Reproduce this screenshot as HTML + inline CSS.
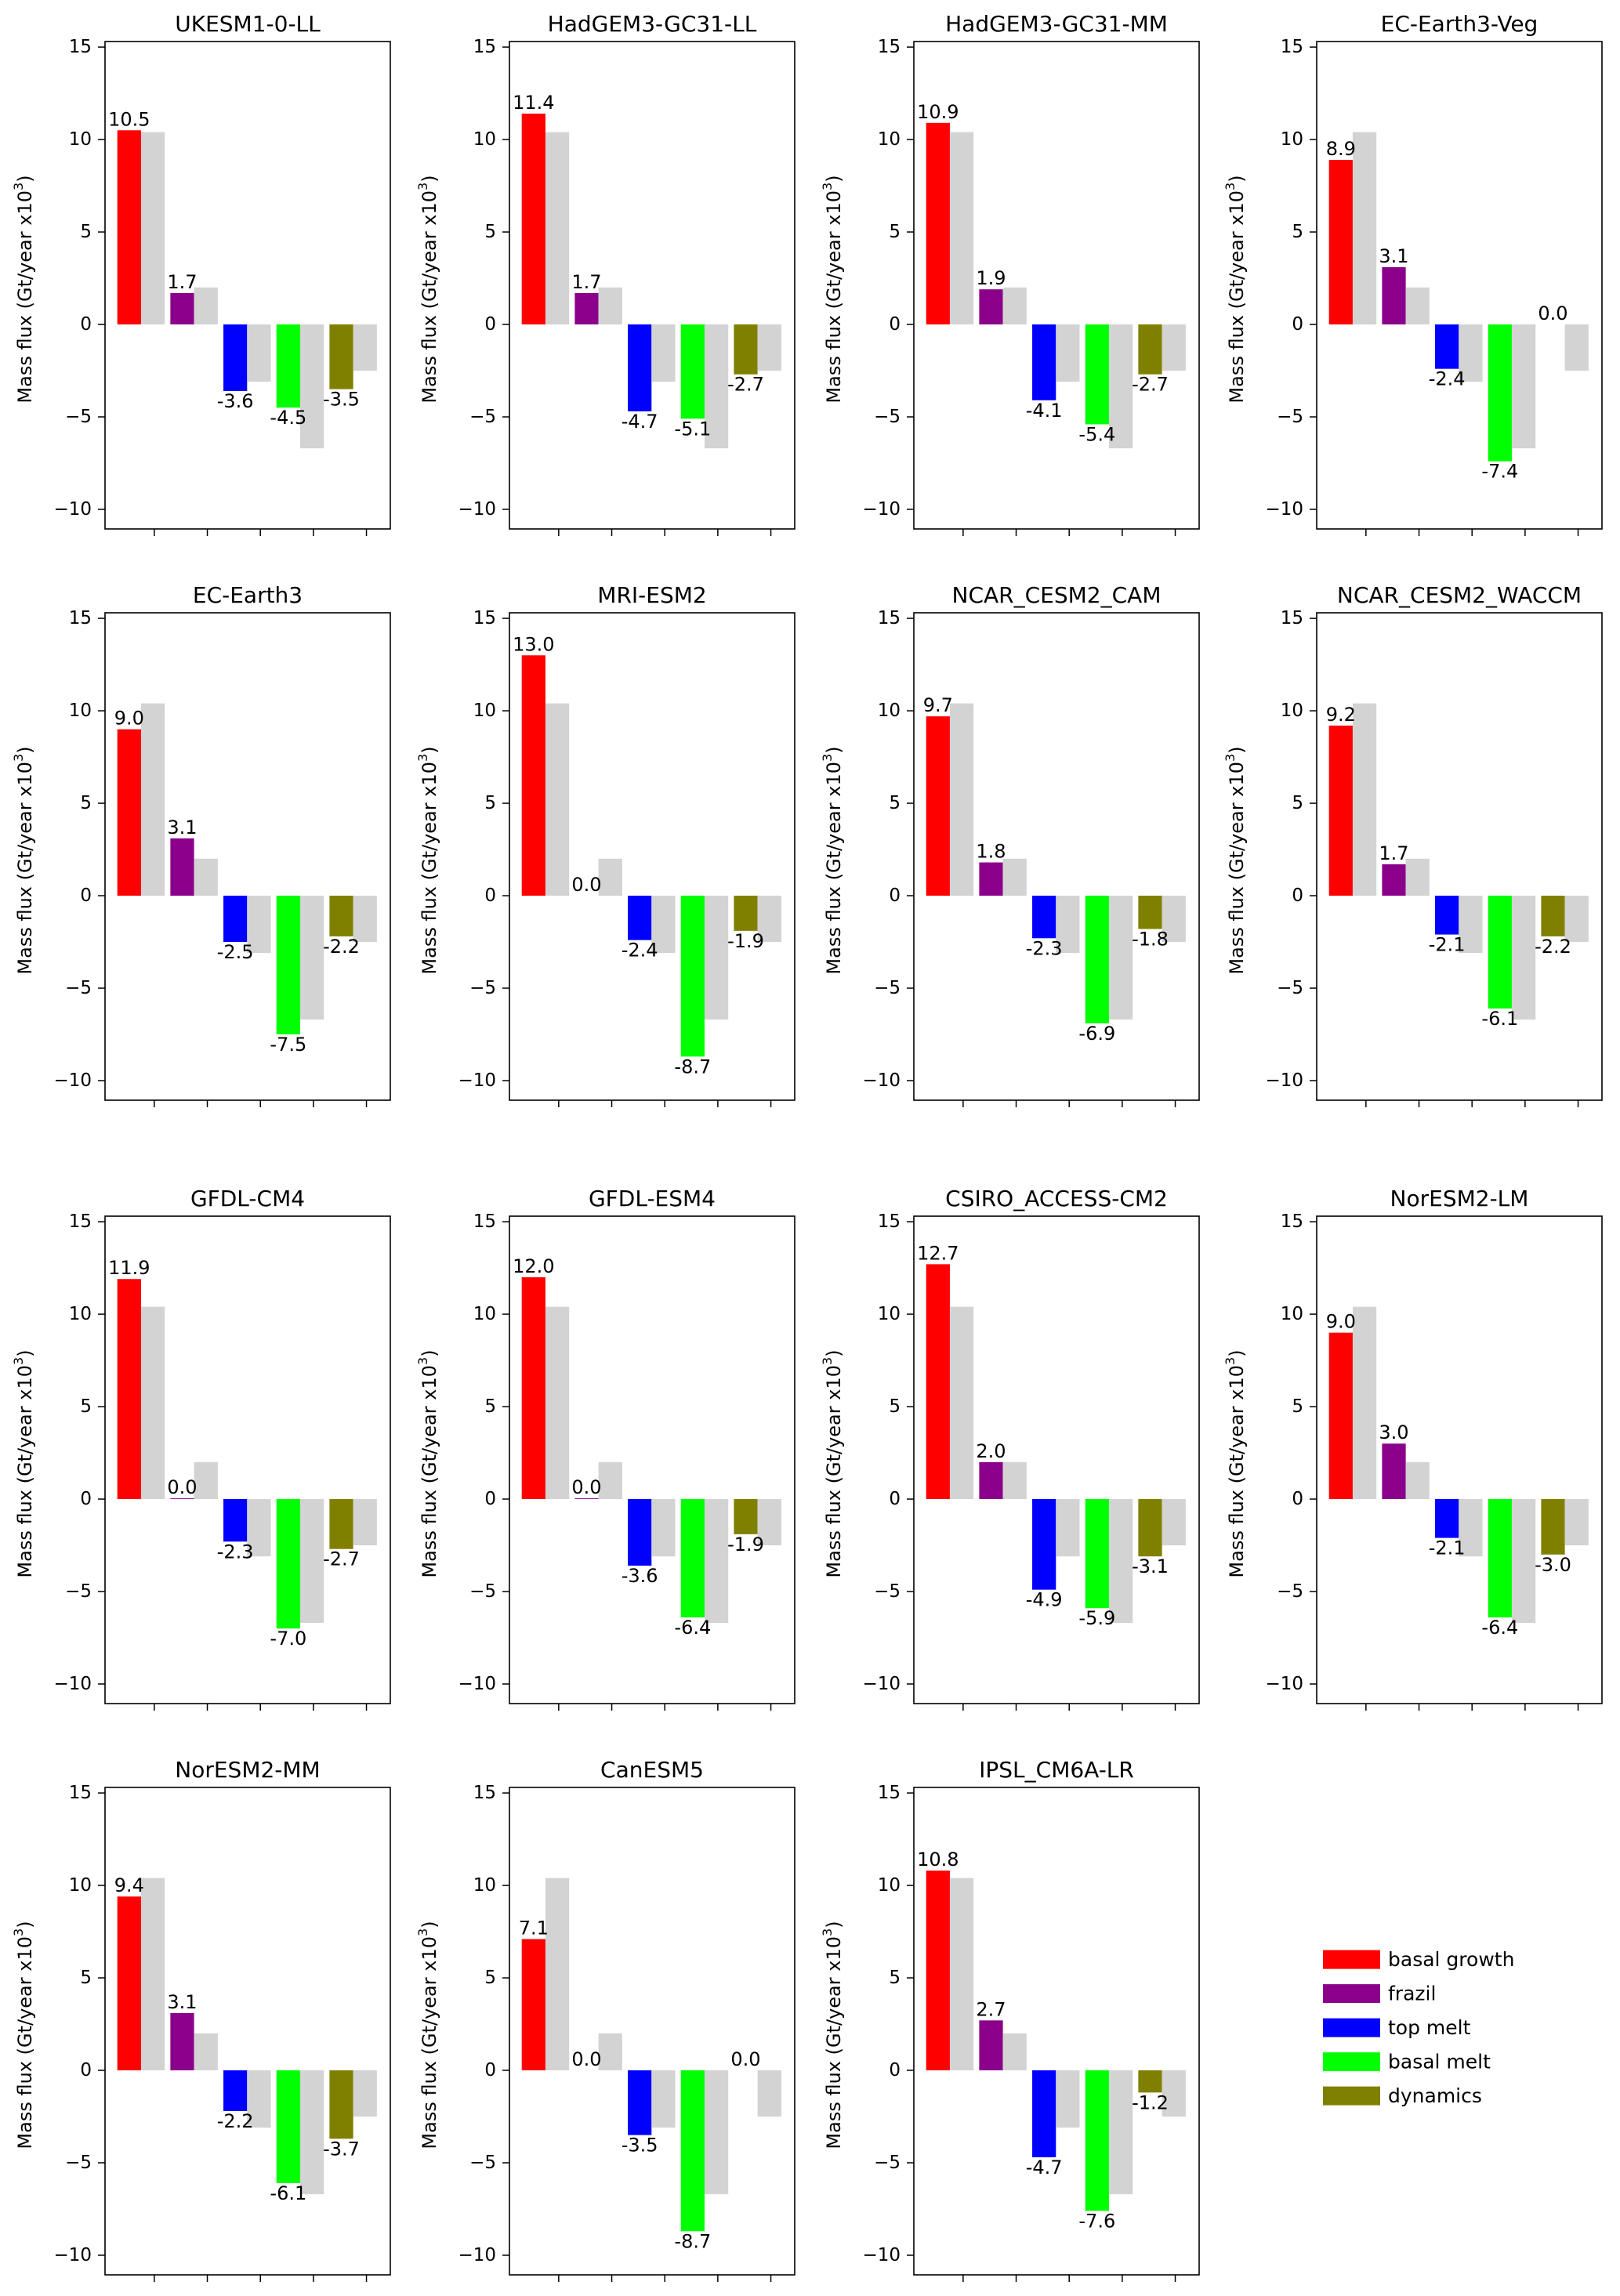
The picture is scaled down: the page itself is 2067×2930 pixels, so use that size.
<!DOCTYPE html>
<html><head><meta charset="utf-8">
<style>
html,body{margin:0;padding:0;background:#fff;}
svg{display:block;font-family:"DejaVu Sans","Liberation Sans",sans-serif;}
</style></head>
<body>
<svg id="fig" width="2067" height="2930" viewBox="0 0 2067 2930" xmlns="http://www.w3.org/2000/svg"></svg>
<script>
const models = ["UKESM1-0-LL","HadGEM3-GC31-LL","HadGEM3-GC31-MM","EC-Earth3-Veg","EC-Earth3","MRI-ESM2","NCAR_CESM2_CAM","NCAR_CESM2_WACCM","GFDL-CM4","GFDL-ESM4","CSIRO_ACCESS-CM2","NorESM2-LM","NorESM2-MM","CanESM5","IPSL_CM6A-LR"];
const basalGrowth = [10.5,11.4,10.9,8.9,9.0,13.0,9.7,9.2,11.9,12.0,12.7,9.0,9.4,7.1,10.8];
const frazil      = [1.7,1.7,1.9,3.1,3.1,0.0,1.8,1.7,0.04,0.04,2.0,3.0,3.1,0.0,2.7];
const topMelt     = [-3.6,-4.7,-4.1,-2.4,-2.5,-2.4,-2.3,-2.1,-2.3,-3.6,-4.9,-2.1,-2.2,-3.5,-4.7];
const basalMelt   = [-4.5,-5.1,-5.4,-7.4,-7.5,-8.7,-6.9,-6.1,-7.0,-6.4,-5.9,-6.4,-6.1,-8.7,-7.6];
const dynamics    = [-3.5,-2.7,-2.7,0.0,-2.2,-1.9,-1.8,-2.2,-2.7,-1.9,-3.1,-3.0,-3.7,0.0,-1.2];
const reference   = [10.4,2.0,-3.1,-6.7,-2.5];
const categories  = ["basal growth","frazil","top melt","basal melt","dynamics"];
const colors      = ["#ff0000","#8b008b","#0000ff","#00ff00","#808000"];
const yTicks      = [15,10,5,0,-5,-10];

const series = [basalGrowth,frazil,topMelt,basalMelt,dynamics];
const NS = "http://www.w3.org/2000/svg";
const svg = document.getElementById("fig");
const rowTops = [53,782,1552,2281];
const colLefts = [134,650,1166,1680];
const W = 364, H = 622;
const yMin = -11.06, yMax = 15.3, xMin = -0.679, xMax = 4.70;
const BW = 0.447;

function el(tag, attrs, parent){
  const e = document.createElementNS(NS, tag);
  for (const k in attrs) e.setAttribute(k, attrs[k]);
  (parent||svg).appendChild(e);
  return e;
}

models.forEach((name, m) => {
  const L = colLefts[m % 4], T = rowTops[Math.floor(m / 4)];
  const sx = v => L + (v - xMin) / (xMax - xMin) * W;
  const sy = v => T + (yMax - v) / (yMax - yMin) * H;
  const g = el("g", {});
  
  

  const title = el("text", {x: L + W/2, y: T - 13, "text-anchor": "middle", "font-size": 28, fill: "#000"}, g);
  title.textContent = name;
  
  

  for (let i = 0; i < 5; i++) {
    const v = series[i][m];
    const y0 = sy(0), y1 = sy(v);
    const bar = el("rect", {x: sx(i - BW), y: Math.min(y0, y1), width: sx(BW) - sx(0), height: Math.abs(y1 - y0), fill: colors[i]}, g);
    
    
    const r = reference[i];
    const ry = sy(r);
    const rb = el("rect", {x: sx(i), y: Math.min(y0, ry), width: sx(BW) - sx(0), height: Math.abs(ry - y0), fill: "#d3d3d3"}, g);
    
    
    const lbl = el("text", {x: sx(i - BW/2), y: v >= 0 ? y1 - 6 : y1 + 21, "text-anchor": "middle", "font-size": 24, fill: "#000"}, g);
    lbl.textContent = v.toFixed(1);
    
    
  }

  const fr = el("rect", {x: L, y: T, width: W, height: H, fill: "none", stroke: "#000", "stroke-width": 1.6}, g);
  
  

  yTicks.forEach(t => {
    const y = sy(t);
    el("line", {x1: L - 9, x2: L, y1: y, y2: y, stroke: "#000", "stroke-width": 1.5}, g);
    const tl = el("text", {x: L - 17, y: y, "text-anchor": "end", "dominant-baseline": "central", "font-size": 23, fill: "#000"}, g);
    tl.textContent = t < 0 ? "\u2212" + Math.abs(t) : String(t);
    
    
  });
  for (let i = 0; i < 5; i++) {
    const x = sx(i + 0.25);
    el("line", {x1: x, x2: x, y1: T + H, y2: T + H + 9, stroke: "#000", "stroke-width": 1.5}, g);
  }
  const yl = el("text", {x: 0, y: 0, transform: `translate(${L - 102},${T + H/2 + 5}) rotate(-90)`, "text-anchor": "middle", "dominant-baseline": "central", "font-size": 24, fill: "#000"}, g);
  yl.innerHTML = 'Mass flux (Gt/year x10<tspan dy="-9" font-size="16">3</tspan><tspan dy="9">)</tspan>';
  
  
});

const lg = el("g", {});


categories.forEach((c, i) => {
  const y = 2488.6 + i * 43.5;
  const r = el("rect", {x: 1688, y: y, width: 73, height: 24, fill: colors[i]}, lg);
  
  
  const t = el("text", {x: 1771, y: y + 12, "dominant-baseline": "central", "font-size": 25, fill: "#000"}, lg);
  t.textContent = c;
  
  
});
</script>
</body></html>
